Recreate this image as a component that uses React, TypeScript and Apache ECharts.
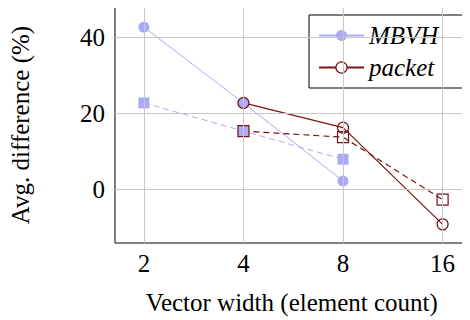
import React, { useEffect, useRef } from "react";
import * as echarts from "echarts";

const widths = [2, 4, 8, 16];
const mbvhSolid = [42.7, 22.8, 2.3, null];
const mbvhDashed = [22.8, 15.4, 8.0, null];
const packetSolid = [null, 22.8, 16.3, -9.1];
const packetDashed = [null, 15.4, 13.8, -2.6];
const yTicks = [0, 20, 40];
const xTitle = "Vector width (element count)";
const yTitle = "Avg. difference (%)";

const MBVH_COLOR = "#aaaaf8";
const PACKET_COLOR = "#761414";
const FONT = "Liberation Serif";

const toData = (vals: (number | null)[]) =>
  widths
    .map((w, i) => (vals[i] == null ? null : [Math.log2(w), vals[i]]))
    .filter((d) => d !== null);

const xTickVals = widths.map((w) => Math.log2(w));

export default function App() {
  const ref = useRef<HTMLDivElement>(null);
  useEffect(() => {
    const chart = echarts.init(ref.current!, null, { renderer: "svg" });
    const axisCommon = {
      axisLine: { show: false },
    };
    chart.setOption({
      animation: false,
      backgroundColor: "#ffffff",
      grid: {
        left: 115,
        top: 7,
        right: 1.5,
        bottom: 75,
        show: true,
        borderColor: "#000",
        borderWidth: 1,
        backgroundColor: "transparent",
      },
      legend: {
        orient: "vertical",
        left: 309,
        top: 15,
        padding: [8, 30, 8, 9],
        itemGap: 7,
        itemWidth: 45,
        itemHeight: 14,
        borderColor: "#000",
        borderWidth: 1,
        backgroundColor: "#fff",
        textStyle: {
          fontFamily: FONT,
          fontSize: 25,
          fontStyle: "italic",
          color: "#000",
        },
        data: [
          { name: "MBVH" },
          { name: "packet", itemStyle: { color: "#fff", borderColor: PACKET_COLOR, borderWidth: 1.2 } },
        ],
      },
      xAxis: [
        {
          type: "value",
          min: 0.71,
          max: 4.26,
          ...axisCommon,
          axisTick: {
            show: true,
            inside: true,
            length: 4,
            customValues: xTickVals,
            lineStyle: { color: "#000" },
          },
          axisLabel: {
            customValues: xTickVals,
            formatter: (v: number) => String(Math.round(Math.pow(2, v))),
            fontFamily: FONT,
            fontSize: 25,
            color: "#000",
            margin: 8,
          },
          splitLine: { show: false },
          name: xTitle,
          nameLocation: "middle",
          nameGap: 47,
          nameTextStyle: { fontFamily: FONT, fontSize: 25, color: "#000" },
        },
        {
          type: "value",
          position: "top",
          min: 0.71,
          max: 4.26,
          ...axisCommon,
          axisTick: {
            show: true,
            inside: true,
            length: 4,
            customValues: xTickVals,
            lineStyle: { color: "#000" },
          },
          axisLabel: { show: false },
          splitLine: { show: false },
        },
      ],
      yAxis: [
        {
          type: "value",
          min: -14,
          max: 48,
          ...axisCommon,
          axisTick: {
            show: true,
            inside: true,
            length: 4,
            customValues: yTicks,
            lineStyle: { color: "#000" },
          },
          axisLabel: {
            customValues: yTicks,
            fontFamily: FONT,
            fontSize: 25,
            color: "#000",
            margin: 10,
          },
          splitLine: { show: false },
          name: yTitle,
          nameLocation: "middle",
          nameGap: 82,
          nameTextStyle: { fontFamily: FONT, fontSize: 25, color: "#000" },
        },
        {
          type: "value",
          position: "right",
          min: -14,
          max: 48,
          ...axisCommon,
          axisTick: {
            show: true,
            inside: true,
            length: 4,
            customValues: yTicks,
            lineStyle: { color: "#000" },
          },
          axisLabel: { show: false },
          splitLine: { show: false },
        },
      ],
      series: [
        {
          name: "gridlines",
          type: "line",
          data: [],
          silent: true,
          markLine: {
            silent: true,
            symbol: "none",
            label: { show: false },
            lineStyle: { color: "#c8c8c8", type: "solid", width: 1 },
            data: [
              ...xTickVals.map((v) => ({ xAxis: v })),
              ...yTicks.map((v) => ({ yAxis: v })),
            ],
          },
        },
        {
          name: "MBVH",
          type: "line",
          data: toData(mbvhSolid),
          symbol: "circle",
          symbolSize: 11,
          lineStyle: { color: MBVH_COLOR, width: 1 },
          itemStyle: { color: MBVH_COLOR },
        },
        {
          name: "MBVH dashed",
          type: "line",
          data: toData(mbvhDashed),
          symbol: "rect",
          symbolSize: 11,
          lineStyle: { color: MBVH_COLOR, width: 1, type: [6, 4] },
          itemStyle: { color: MBVH_COLOR },
        },
        {
          name: "packet",
          type: "line",
          data: toData(packetSolid),
          symbol: "circle",
          symbolSize: 11,
          lineStyle: { color: PACKET_COLOR, width: 1.2 },
          itemStyle: {
            color: "rgba(0,0,0,0)",
            borderColor: PACKET_COLOR,
            borderWidth: 1.2,
          },
        },
        {
          name: "packet dashed",
          type: "line",
          data: toData(packetDashed),
          symbol: "rect",
          symbolSize: 11,
          lineStyle: { color: PACKET_COLOR, width: 1.2, type: [6, 4] },
          itemStyle: {
            color: "rgba(0,0,0,0)",
            borderColor: PACKET_COLOR,
            borderWidth: 1.2,
          },
        },
      ],
    });
    return () => chart.dispose();
  }, []);
  return <div ref={ref} style={{ width: 470, height: 320, marginLeft: -8, marginTop: -8 }} />;
}
